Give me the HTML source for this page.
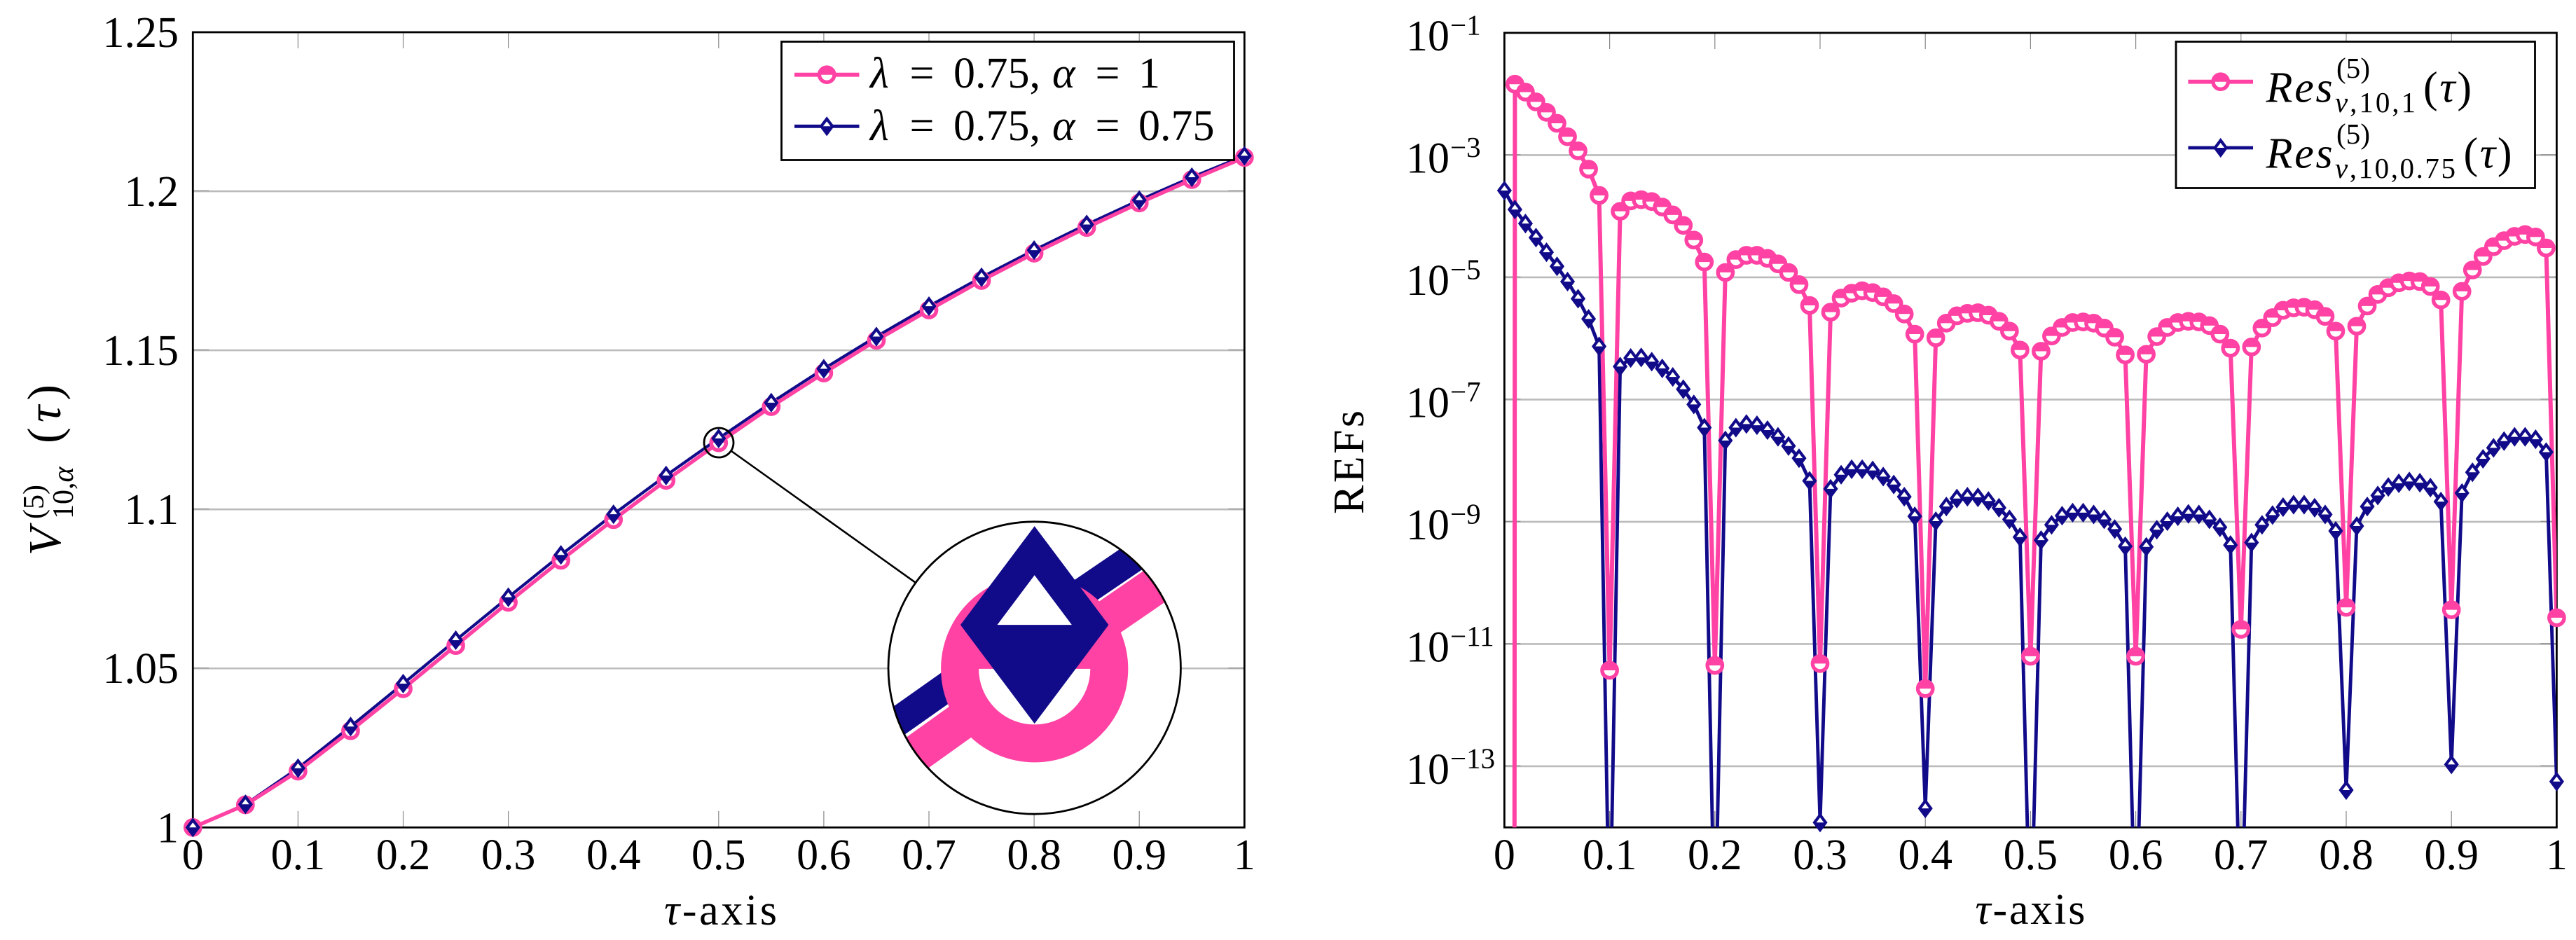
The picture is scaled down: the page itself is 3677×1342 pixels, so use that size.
<!DOCTYPE html>
<html lang="en">
<head>
<meta charset="utf-8">
<title>Residual error chart</title>
<style>
html,body{margin:0;padding:0;background:#fff;width:3677px;height:1342px;overflow:hidden}
svg{display:block}
text{font-family:"Liberation Serif","DejaVu Serif",serif;fill:#000}
.i{font-style:italic}
</style>
</head>
<body>
<svg id="fig" xmlns="http://www.w3.org/2000/svg" width="3677" height="1342" viewBox="0 0 3677 1342">
<defs>
<clipPath id="clip-left"><rect x="275.3" y="46" width="1501" height="1135.3"/></clipPath>
<clipPath id="clip-right"><rect x="2147.4" y="46.9" width="1502" height="1134.3"/></clipPath>
<clipPath id="clip-inset"><circle cx="1476.7" cy="953.5" r="208.7"/></clipPath>
</defs>
<rect x="0" y="0" width="3677" height="1342" fill="#fff"/>

<g id="left-chart">
<g id="left-grid"></g>
<g id="left-ticks"></g>
<rect x="275.3" y="46" width="1501" height="1135.3" fill="none" stroke="#000" stroke-width="2.8"/>
<g id="left-labels" font-size="62"></g>
<g id="left-series"></g>
<circle cx="1026" cy="632" r="21" fill="none" stroke="#000" stroke-width="2.8"/>
<line x1="1044" y1="644" x2="1306.7" y2="831.7" stroke="#000" stroke-width="2.6"/>
<circle cx="1476.7" cy="953.5" r="208.7" fill="#fff"/>
<g id="left-inset" clip-path="url(#clip-inset)"></g>
<circle cx="1476.7" cy="953.5" r="208.7" fill="none" stroke="#000" stroke-width="2.8"/>

<g>
<rect x="1115.5" y="59.5" width="646" height="169" fill="#fff" stroke="#000" stroke-width="2.8"/>
<line x1="1134" y1="106.7" x2="1226.5" y2="106.7" stroke="#ff42a3" stroke-width="5.8"/>
<g id="left-legend-mark-pink"></g>
<g font-size="62">
<text class="i" x="1242" y="125">λ</text>
<text x="1316" y="125" text-anchor="middle">=</text>
<text x="1361" y="125">0.75,</text>
<text class="i" x="1502" y="125">α</text>
<text x="1581" y="125" text-anchor="middle">=</text>
<text x="1625" y="125">1</text>
</g>
<line x1="1134" y1="180.3" x2="1226.5" y2="180.3" stroke="#110b8a" stroke-width="4.8"/>
<g id="left-legend-mark-navy"></g>
<g font-size="62">
<text class="i" x="1242" y="200">λ</text>
<text x="1316" y="200" text-anchor="middle">=</text>
<text x="1361" y="200">0.75,</text>
<text class="i" x="1502" y="200">α</text>
<text x="1581" y="200" text-anchor="middle">=</text>
<text x="1625" y="200">0.75</text>
</g>
</g>

<text x="948" y="1320" font-size="62" textLength="161" lengthAdjust="spacing"><tspan class="i">τ</tspan>-axis</text>
<g transform="translate(86,793) rotate(-90)">
<text class="i" x="0" y="0" font-size="66">V</text>
<text x="52" y="-24" font-size="42">(5)</text>
<text x="52" y="18" font-size="42">10,<tspan class="i">α</tspan></text>
<text x="160" y="0" font-size="68" textLength="84" lengthAdjust="spacing">(<tspan class="i">τ</tspan>)</text>
</g>
</g>

<g id="right-chart">
<g id="right-grid"></g>
<g id="right-ticks"></g>
<rect x="2147.4" y="46.9" width="1502" height="1134.3" fill="none" stroke="#000" stroke-width="2.8"/>
<g id="right-labels" font-size="62"></g>
<g id="right-series"></g>

<g>
<rect x="3106" y="59.5" width="512.5" height="209" fill="#fff" stroke="#000" stroke-width="2.8"/>
<line x1="3123.4" y1="116.7" x2="3216" y2="116.7" stroke="#ff42a3" stroke-width="5.8"/>
<g id="right-legend-mark-pink"></g>
<g>
<text class="i" x="3234.6" y="145.7" font-size="62" textLength="95" lengthAdjust="spacing">Res</text>
<text x="3335" y="111" font-size="41" textLength="48" lengthAdjust="spacing">(5)</text>
<text x="3333" y="160" font-size="41" textLength="115" lengthAdjust="spacing"><tspan class="i">v</tspan>,10,1</text>
<text x="3459" y="145.7" font-size="62" textLength="69" lengthAdjust="spacing">(<tspan class="i">τ</tspan>)</text>
</g>
<line x1="3123.4" y1="211" x2="3216" y2="211" stroke="#110b8a" stroke-width="4.8"/>
<g id="right-legend-mark-navy"></g>
<g>
<text class="i" x="3234.6" y="239.3" font-size="62" textLength="95" lengthAdjust="spacing">Res</text>
<text x="3335" y="205" font-size="41" textLength="48" lengthAdjust="spacing">(5)</text>
<text x="3333" y="254" font-size="41" textLength="172" lengthAdjust="spacing"><tspan class="i">v</tspan>,10,0.75</text>
<text x="3516.5" y="239.3" font-size="62" textLength="69" lengthAdjust="spacing">(<tspan class="i">τ</tspan>)</text>
</g>
</g>

<text x="2819.4" y="1319" font-size="62" textLength="157" lengthAdjust="spacing"><tspan class="i">τ</tspan>-axis</text>
<text transform="translate(1946,660) rotate(-90)" text-anchor="middle" font-size="62" textLength="148" lengthAdjust="spacing">REFs</text>
</g>
</svg>

<script>
// ---- Left chart data ----
const solTau = [0,0.05,0.1,0.15,0.2,0.25,0.3,0.35,0.4,0.45,0.5,0.55,0.6,0.65,0.7,0.75,0.8,0.85,0.9,0.95,1];
const solAlpha1 = [1,1.00711,1.01769,1.0304,1.04361,1.05718,1.07077,1.08399,1.09676,1.1091,1.12093,1.13229,1.14286,1.15315,1.16269,1.17194,1.18053,1.18861,1.19632,1.20366,1.21064];
const solAlpha075 = [1,1.00727,1.01863,1.03172,1.04522,1.05887,1.07238,1.08568,1.09846,1.11064,1.12231,1.13355,1.14419,1.15432,1.16388,1.17297,1.1815,1.18956,1.1972,1.20441,1.21115];
const leftYTicks = [1,1.05,1.1,1.15,1.2,1.25];
const leftYTickLabels = ["1","1.05","1.1","1.15","1.2","1.25"];
const xTickValues = [0,0.1,0.2,0.3,0.4,0.5,0.6,0.7,0.8,0.9,1];
const xTickLabels = ["0","0.1","0.2","0.3","0.4","0.5","0.6","0.7","0.8","0.9","1"];
const leftXTickMarks = [0.1,0.2,0.3,0.5,0.6,0.7,0.8,0.9];

// ---- Right chart data (log10 of the residual error) ----
const resLog10Alpha1 = [-300,
-1.84,-1.97,-2.13,-2.30,-2.48,-2.70,-2.93,-3.23,-3.66,-11.43,
-3.92,-3.75,-3.73,-3.76,-3.85,-3.98,-4.15,-4.39,-4.75,-11.35,
-4.92,-4.71,-4.64,-4.64,-4.69,-4.78,-4.92,-5.12,-5.46,-11.32,
-5.57,-5.34,-5.26,-5.22,-5.25,-5.32,-5.43,-5.60,-5.93,-11.73,
-5.99,-5.75,-5.63,-5.59,-5.58,-5.62,-5.72,-5.88,-6.19,-11.20,
-6.21,-5.96,-5.82,-5.74,-5.73,-5.75,-5.83,-5.98,-6.27,-11.20,
-6.26,-5.97,-5.82,-5.74,-5.72,-5.73,-5.79,-5.93,-6.16,-10.76,
-6.14,-5.83,-5.66,-5.54,-5.50,-5.49,-5.53,-5.64,-5.88,-10.40,
-5.80,-5.47,-5.28,-5.17,-5.09,-5.06,-5.07,-5.15,-5.37,-10.44,
-5.23,-4.88,-4.66,-4.50,-4.40,-4.33,-4.30,-4.34,-4.52,-10.57];
const resLog10Alpha075 = [-3.58,
-3.89,-4.12,-4.35,-4.59,-4.82,-5.07,-5.35,-5.68,-6.13,-16,
-6.46,-6.32,-6.31,-6.38,-6.49,-6.63,-6.83,-7.08,-7.46,-16,
-7.67,-7.46,-7.40,-7.42,-7.50,-7.61,-7.76,-7.96,-8.33,-13.92,
-8.46,-8.23,-8.14,-8.14,-8.16,-8.26,-8.39,-8.59,-8.91,-13.69,
-8.99,-8.75,-8.62,-8.59,-8.60,-8.66,-8.77,-8.96,-9.25,-16,
-9.30,-9.05,-8.90,-8.85,-8.85,-8.88,-8.96,-9.12,-9.40,-16,
-9.41,-9.13,-8.99,-8.91,-8.87,-8.88,-8.96,-9.09,-9.38,-16,
-9.34,-9.05,-8.89,-8.76,-8.72,-8.72,-8.77,-8.88,-9.15,-13.39,
-9.07,-8.75,-8.57,-8.43,-8.37,-8.34,-8.36,-8.44,-8.67,-12.97,
-8.53,-8.19,-7.97,-7.79,-7.68,-7.61,-7.61,-7.65,-7.86,-13.25];
const resTau = resLog10Alpha1.map(function (_, i) { return i / 100; });
const rightYExponents = [-1,-3,-5,-7,-9,-11,-13];
const rightYExponentLabels = ["−1","−3","−5","−7","−9","−11","−13"];
const rightXTickMarks = [0.1,0.2,0.3,0.4,0.5,0.6,0.7,0.8,0.9];

// ---- Axis functions ----
function xLeft(t) { return 275.3 + t * 1501; }
function yLeft(v) { return 1181.3 - (v - 1) / 0.25 * 1135.3; }
function xRight(t) { return 2147.4 + t * 1502; }
function yRight(e) { return 46.9 + (-1 - e) / 13 * 1134.3; }

const SVGNS = "http://www.w3.org/2000/svg";
const PINK = "#ff42a3";
const NAVY = "#110b8a";
function mk(tag, parent, attrs) {
  const el = document.createElementNS(SVGNS, tag);
  for (const k in attrs) el.setAttribute(k, attrs[k]);
  parent.appendChild(el);
  return el;
}
function byId(id) { return document.getElementById(id); }

function pinkMarker(parent, x, y) {
  const g = mk("g", parent, {});
  
  
  const r = 10.66;
  mk("circle", g, {cx: x, cy: y, r: r, fill: "#fff"});
  mk("path", g, {d: "M" + (x - r) + " " + y + "A" + r + " " + r + " 0 0 1 " + (x + r) + " " + y + "Z", fill: PINK});
  mk("circle", g, {cx: x, cy: y, r: r, fill: "none", stroke: PINK, "stroke-width": 5.4});
}
function navyMarker(parent, x, y) {
  const g = mk("g", parent, {});
  
  
  const a = 7.95, b = 10.6;
  mk("polygon", g, {points: x + "," + (y - b) + " " + (x + a) + "," + y + " " + x + "," + (y + b) + " " + (x - a) + "," + y, fill: "#fff", stroke: NAVY, "stroke-width": 4.2, "stroke-miterlimit": 10});
  mk("polygon", g, {points: (x - a) + "," + y + " " + (x + a) + "," + y + " " + x + "," + (y + b), fill: NAVY});
}

// Builds a line path through the axis functions, trimming each segment to a pixel box
function clippedPath(xs, ys, fx, fy, box) {
  let d = "", lastX = null, lastY = null;
  for (let i = 0; i + 1 < xs.length; i++) {
    const x0 = fx(xs[i]), y0 = fy(ys[i]), x1 = fx(xs[i + 1]), y1 = fy(ys[i + 1]);
    const dx = x1 - x0, dy = y1 - y0;
    let t0 = 0, t1 = 1, ok = true;
    [[-dx, x0 - box.x0], [dx, box.x1 - x0], [-dy, y0 - box.y0], [dy, box.y1 - y0]].forEach(function (c) {
      const p = c[0], q = c[1];
      if (p === 0) { if (q < 0) ok = false; }
      else {
        const r = q / p;
        if (p < 0) { if (r > t1) ok = false; else if (r > t0) t0 = r; }
        else { if (r < t0) ok = false; else if (r < t1) t1 = r; }
      }
    });
    if (!ok) continue;
    const ax = x0 + t0 * dx, ay = y0 + t0 * dy, bx = x0 + t1 * dx, by = y0 + t1 * dy;
    if (lastX === null || Math.abs(ax - lastX) > 0.01 || Math.abs(ay - lastY) > 0.01) d += "M" + ax.toFixed(2) + " " + ay.toFixed(2);
    d += "L" + bx.toFixed(2) + " " + by.toFixed(2);
    lastX = bx; lastY = by;
  }
  return d;
}
function inBox(x, y, box) { return x >= box.x0 && x <= box.x1 && y >= box.y0 && y <= box.y1; }

function drawLeftSeries(parent, clip, box) {
  const lines = mk("g", parent, clip ? {"clip-path": "url(#clip-left)"} : {});
  const navyLine = mk("path", lines, {d: clippedPath(solTau, solAlpha075, xLeft, yLeft, box), fill: "none", stroke: NAVY, "stroke-width": 4.2});
  
  
  const pinkLine = mk("path", lines, {d: clippedPath(solTau, solAlpha1, xLeft, yLeft, box), fill: "none", stroke: PINK, "stroke-width": 5.4});
  
  
  solTau.forEach(function (t, i) {
    if (inBox(xLeft(t), yLeft(solAlpha1[i]), box)) pinkMarker(parent, xLeft(t), yLeft(solAlpha1[i]));
  });
  solTau.forEach(function (t, i) {
    if (inBox(xLeft(t), yLeft(solAlpha075[i]), box)) navyMarker(parent, xLeft(t), yLeft(solAlpha075[i]));
  });
}

function drawRightSeries(parent) {
  const box = {x0: 2140, x1: 3656, y0: 40, y1: 1186};
  const lines = mk("g", parent, {"clip-path": "url(#clip-right)", "stroke-linejoin": "round"});
  const navyLine = mk("path", lines, {d: clippedPath(resTau, resLog10Alpha075, xRight, yRight, box), fill: "none", stroke: NAVY, "stroke-width": 4.9});
  
  
  const pinkLine = mk("path", lines, {d: clippedPath(resTau, resLog10Alpha1, xRight, yRight, box), fill: "none", stroke: PINK, "stroke-width": 6});
  
  
  resTau.forEach(function (t, i) {
    if (resLog10Alpha1[i] >= -14 && resLog10Alpha1[i] <= -1) pinkMarker(parent, xRight(t), yRight(resLog10Alpha1[i]));
  });
  resTau.forEach(function (t, i) {
    if (resLog10Alpha075[i] >= -14 && resLog10Alpha075[i] <= -1) navyMarker(parent, xRight(t), yRight(resLog10Alpha075[i]));
  });
}

function gridLine(parent, x1, x2, y) {
  const l = mk("line", parent, {x1: x1, x2: x2, y1: y, y2: y, stroke: "#bbbbbb", "stroke-width": 2.6});
  
  
}
function tickSeg(parent, x1, y1, x2, y2) {
  const l = mk("line", parent, {x1: x1, y1: y1, x2: x2, y2: y2, stroke: "#888888", "stroke-width": 1.2});
  
  
}
function xLabel(parent, x, s) {
  const t = mk("text", parent, {x: x, y: 1241, "text-anchor": "middle"});
  
  
  t.textContent = s;
}

// ---- Left chart ----
leftYTicks.forEach(function (v, i) {
  const y = yLeft(v);
  if (v > 1 && v < 1.25) {
    gridLine(byId("left-grid"), 275.3, 1776.3, y);
    tickSeg(byId("left-ticks"), 275.3, y - 0.6, 298.3, y - 0.6);
    tickSeg(byId("left-ticks"), 1753.3, y - 0.6, 1776.3, y - 0.6);
  }
  const t = mk("text", byId("left-labels"), {x: 255, y: y + 21, "text-anchor": "end"});
  
  
  t.textContent = leftYTickLabels[i];
});
leftXTickMarks.forEach(function (t) {
  tickSeg(byId("left-ticks"), xLeft(t), 46, xLeft(t), 69);
  tickSeg(byId("left-ticks"), xLeft(t), 1158, xLeft(t), 1181.3);
});
xTickValues.forEach(function (t, i) { xLabel(byId("left-labels"), xLeft(t), xTickLabels[i]); });
drawLeftSeries(byId("left-series"), true, {x0: 268, x1: 1784, y0: 38, y1: 1189});

// Magnified inset: same data through the same axes, enlarged 10x
const insetGroup = mk("g", byId("left-inset"), {transform: "translate(1476.7 953.5) scale(10) translate(-1025.8 -632)"});
drawLeftSeries(insetGroup, false, {x0: 1003.8, x1: 1047.8, y0: 610, y1: 654});

// ---- Right chart ----
rightYExponents.forEach(function (e, i) {
  const y = yRight(e);
  if (e > -14 && e < -1) {
    gridLine(byId("right-grid"), 2147.4, 3649.4, y);
    tickSeg(byId("right-ticks"), 2147.4, y - 0.6, 2170.4, y - 0.6);
    tickSeg(byId("right-ticks"), 3626.4, y - 0.6, 3649.4, y - 0.6);
  }
  const base = mk("text", byId("right-labels"), {x: 2007, y: y + 25});
  
  
  base.textContent = "10";
  const ex = mk("text", byId("right-labels"), {x: 2070, y: y + 2.6, "font-size": 41});
  
  
  ex.textContent = rightYExponentLabels[i];
});
rightXTickMarks.forEach(function (t) {
  tickSeg(byId("right-ticks"), xRight(t), 46.9, xRight(t), 70);
  tickSeg(byId("right-ticks"), xRight(t), 1158, xRight(t), 1181.2);
});
xTickValues.forEach(function (t, i) { xLabel(byId("right-labels"), xRight(t), xTickLabels[i]); });
drawRightSeries(byId("right-series"));

// ---- Legend markers ----
pinkMarker(byId("left-legend-mark-pink"), 1180.2, 106.7);
navyMarker(byId("left-legend-mark-navy"), 1180.2, 180.3);
pinkMarker(byId("right-legend-mark-pink"), 3169.7, 116.7);
navyMarker(byId("right-legend-mark-navy"), 3169.7, 211);
</script>
</body>
</html>
